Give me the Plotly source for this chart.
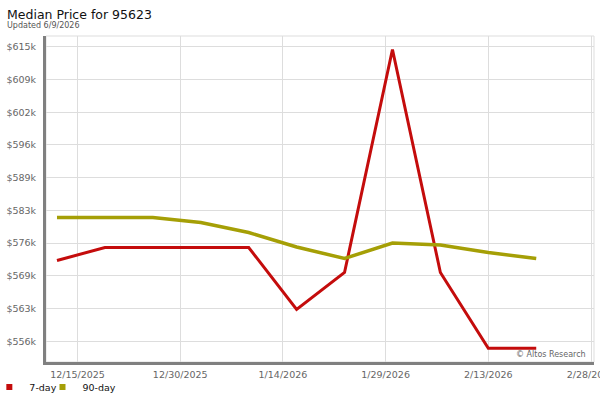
import plotly.graph_objects as go

# weekly median price, thousands of dollars
dates = ['2025-12-12', '2025-12-19', '2025-12-26', '2026-01-02', '2026-01-09', '2026-01-16',
         '2026-01-23', '2026-01-30', '2026-02-06', '2026-02-13', '2026-02-20']
price_7day = [572.5, 575.1, 575.1, 575.1, 575.1, 562.7, 570.1, 614.8, 570.1, 554.9, 554.9]
price_90day = [581.1, 581.1, 581.1, 580.1, 578.1, 575.2, 572.9, 576.0, 575.6, 574.1, 572.9]

x_ticks = ['2025-12-15', '2025-12-30', '2026-01-14', '2026-01-29', '2026-02-13', '2026-02-28']
x_tick_labels = ['12/15/2025', '12/30/2025', '1/14/2026', '1/29/2026', '2/13/2026', '2/28/2026']
y_ticks = [556.3, 562.86, 569.42, 575.98, 582.54, 589.1, 595.66, 602.22, 608.78, 615.34]
y_tick_labels = ['$556k', '$563k', '$569k', '$576k', '$583k', '$589k', '$596k', '$602k', '$609k', '$615k']

RED = '#c40c0c'
OLIVE = '#a59f06'
FONT = 'DejaVu Sans'

fig = go.Figure()

fig.add_trace(go.Scatter(x=dates, y=price_7day, mode='lines', name='7-day',
                         line=dict(color=RED, width=3), showlegend=False, legendgroup='7'))
fig.add_trace(go.Scatter(x=dates, y=price_90day, mode='lines', name='90-day',
                         line=dict(color=OLIVE, width=3.5), showlegend=False, legendgroup='90'))

# legend entries drawn as squares, like the original (two legends to get the tight spacing)
fig.add_trace(go.Scatter(x=[None], y=[None], mode='markers', name='7-day', legendgroup='7',
                         marker=dict(color=RED, symbol='square', size=6), legend='legend'))
fig.add_trace(go.Scatter(x=[None], y=[None], mode='markers', name='90-day', legendgroup='90',
                         marker=dict(color=OLIVE, symbol='square', size=6), legend='legend2'))

legend_style = dict(orientation='h', xanchor='left', y=-0.077, yanchor='middle',
                    font=dict(size=9.5, color='#111111'), itemwidth=30,
                    bgcolor='rgba(0,0,0,0)')

fig.update_layout(
    width=600, height=400,
    margin=dict(l=46, r=6, t=36, b=38, autoexpand=False),
    paper_bgcolor='white', plot_bgcolor='white',
    font=dict(family=FONT, size=9.5, color='#666666'),
    showlegend=True,
    legend=dict(x=-0.1034, **legend_style),
    legend2=dict(x=-0.0064, **legend_style),
    annotations=[
        dict(text='Median Price for 95623', xref='paper', yref='paper', x=-0.0748, y=1.066,
             xanchor='left', yanchor='middle', showarrow=False,
             font=dict(family=FONT, size=12.5, color='#111111')),
        dict(text='Updated 6/9/2026', xref='paper', yref='paper', x=-0.0748, y=1.0337,
             xanchor='left', yanchor='middle', showarrow=False,
             font=dict(family=FONT, size=8, color='#555555')),
        dict(text='© Altos Research', xref='paper', yref='paper', x=0.989, y=0.0235,
             xanchor='right', yanchor='middle', showarrow=False,
             font=dict(family=FONT, size=8, color='#666666')),
    ],
    shapes=[
        dict(type='rect', xref='paper', yref='paper', x0=0, x1=1, y0=0, y1=1,
             line=dict(color='#dddddd', width=1), layer='below'),
    ],
)

fig.update_xaxes(
    type='date',
    range=['2025-12-10 09:30', '2026-02-28 10:30'],
    tickvals=x_ticks, ticktext=x_tick_labels,
    showgrid=True, gridcolor='#dddddd', gridwidth=1,
    showline=True, linecolor='#808080', linewidth=3,
    ticks='', zeroline=False, ticklabelstandoff=2, automargin=False,
    ticklabeloverflow='allow',
)
fig.update_yaxes(
    range=[552.15, 617.5],
    tickvals=y_ticks, ticktext=y_tick_labels,
    showgrid=True, gridcolor='#dddddd', gridwidth=1,
    showline=True, linecolor='#808080', linewidth=3,
    ticks='', zeroline=False, ticklabelstandoff=5, automargin=False,
)

# drop the browser's default body margin so the chart sits at the page corner
fig.write_html("out.html", config={'displayModeBar': False},
               post_script="document.body.style.margin = '0';")
